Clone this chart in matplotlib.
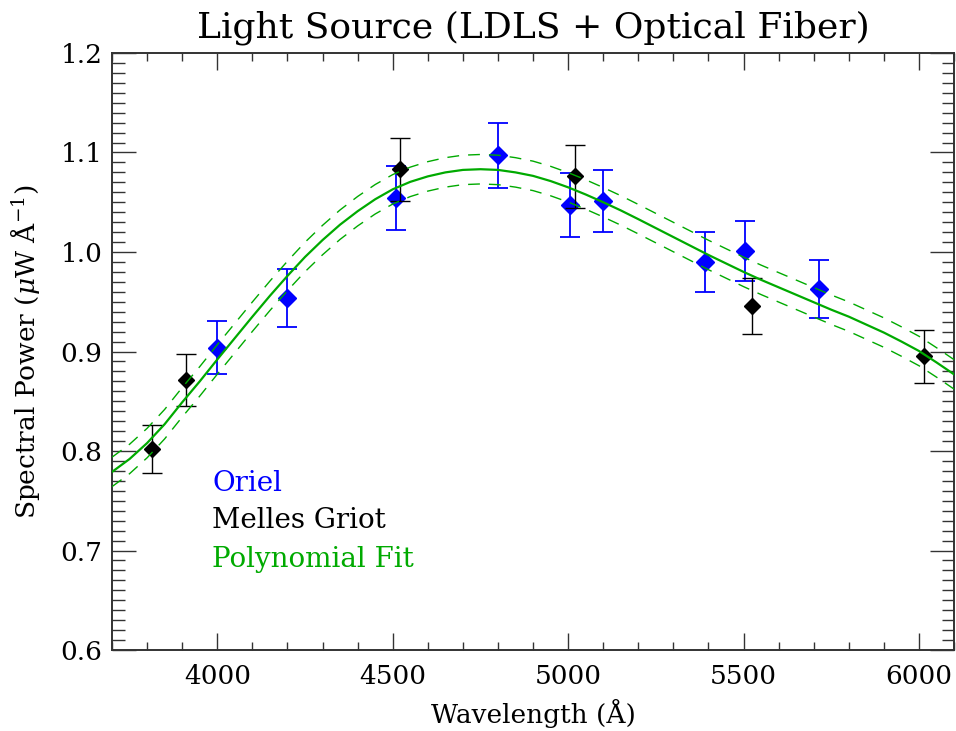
import matplotlib
matplotlib.use('Agg')
import matplotlib.pyplot as plt
from matplotlib.ticker import MultipleLocator

plt.rcParams['font.family'] = 'DejaVu Serif'
plt.rcParams['mathtext.fontset'] = 'dejavuserif'

# Oriel measurements
oriel_wave = [4000, 4200, 4510, 4800, 5005, 5100, 5390, 5505, 5715]
oriel_pow = [0.904, 0.954, 1.054, 1.097, 1.047, 1.051, 0.990, 1.001, 0.963]
oriel_err = [0.027, 0.029, 0.032, 0.033, 0.032, 0.031, 0.030, 0.030, 0.029]

# Melles Griot measurements
mg_wave = [3813, 3910, 4520, 5020, 5525, 6015]
mg_pow = [0.802, 0.871, 1.083, 1.076, 0.946, 0.895]
mg_err = [0.024, 0.026, 0.032, 0.032, 0.028, 0.027]

# polynomial fit (every 50 A), with its uncertainty band
fit_wave = [3700, 3750, 3800, 3850, 3900, 3950, 4000, 4050, 4100, 4150,
            4200, 4250, 4300, 4350, 4400, 4450, 4500, 4550, 4600, 4650,
            4700, 4750, 4800, 4850, 4900, 4950, 5000, 5050, 5100, 5150,
            5200, 5250, 5300, 5350, 5400, 5450, 5500, 5550, 5600, 5650,
            5700, 5750, 5800, 5850, 5900, 5950, 6000, 6050, 6100]
fit_pow = [0.779, 0.792, 0.808, 0.827, 0.849, 0.870, 0.892, 0.9135, 0.935,
           0.956, 0.976, 0.995, 1.012, 1.0275, 1.041, 1.053, 1.063, 1.0705,
           1.076, 1.080, 1.0825, 1.0832, 1.0825, 1.080, 1.0765, 1.0713,
           1.065, 1.0578, 1.050, 1.0418, 1.033, 1.024, 1.015, 1.006, 0.997,
           0.9885, 0.980, 0.972, 0.9645, 0.957, 0.9495, 0.942, 0.935, 0.927,
           0.919, 0.910, 0.9005, 0.889, 0.877]
fit_sig = [0.0148] * len(fit_wave)

fig = plt.figure(figsize=(9.56, 7.31), dpi=100)
ax = fig.add_axes([0.1172, 0.1108, 0.8808, 0.8167])

blue = '#0000ff'
green = '#00aa00'

ax.errorbar(oriel_wave, oriel_pow, yerr=oriel_err, fmt='D', color=blue,
            ms=8.8, elinewidth=1.3, capsize=7, capthick=1.3, zorder=2)
ax.errorbar(mg_wave, mg_pow, yerr=mg_err, fmt='D', color='black',
            ms=8.5, elinewidth=1.0, capsize=7, capthick=1.0, zorder=3)

upper = [p + s for p, s in zip(fit_pow, fit_sig)]
lower = [p - s for p, s in zip(fit_pow, fit_sig)]
ax.plot(fit_wave, fit_pow, color=green, lw=1.6, zorder=4)
ax.plot(fit_wave, upper, color=green, lw=1.0, dashes=(8.5, 6.5), zorder=4)
ax.plot(fit_wave, lower, color=green, lw=1.0, dashes=(8.5, 6.5), zorder=4)

ax.set_xlim(3700, 6100)
ax.set_ylim(0.6, 1.2)
ax.xaxis.set_major_locator(MultipleLocator(500))
ax.xaxis.set_minor_locator(MultipleLocator(100))
ax.yaxis.set_major_locator(MultipleLocator(0.1))
ax.yaxis.set_minor_locator(MultipleLocator(0.01))
ax.yaxis.set_major_formatter(plt.FormatStrFormatter('%.1f'))

ax.tick_params(which='both', direction='in', top=True, right=True,
               labelsize=19, width=1.0, color='#333333')
ax.tick_params(axis='x', which='major', length=12, pad=10)
ax.tick_params(axis='x', which='minor', length=6)
ax.tick_params(axis='y', which='major', length=17, pad=7)
ax.tick_params(axis='y', which='minor', length=9)
for sp in ax.spines.values():
    sp.set_linewidth(1.4)
    sp.set_color('#333333')

ax.set_title('Light Source (LDLS + Optical Fiber)', fontsize=26, pad=11)
ax.set_xlabel('Wavelength (Å)', fontsize=19, labelpad=7)
ax.set_ylabel(r'Spectral Power ($\mu$W Å$^{-1}$)', fontsize=19, labelpad=13)

ax.text(0.1188, 0.2663, 'Oriel', color=blue, fontsize=20,
        transform=ax.transAxes, va='baseline')
ax.text(0.1188, 0.2038, 'Melles Griot', color='black', fontsize=20,
        transform=ax.transAxes, va='baseline')
ax.text(0.1188, 0.1395, 'Polynomial Fit', color=green, fontsize=20,
        transform=ax.transAxes, va='baseline')

fig.savefig('out.png', dpi=100)
